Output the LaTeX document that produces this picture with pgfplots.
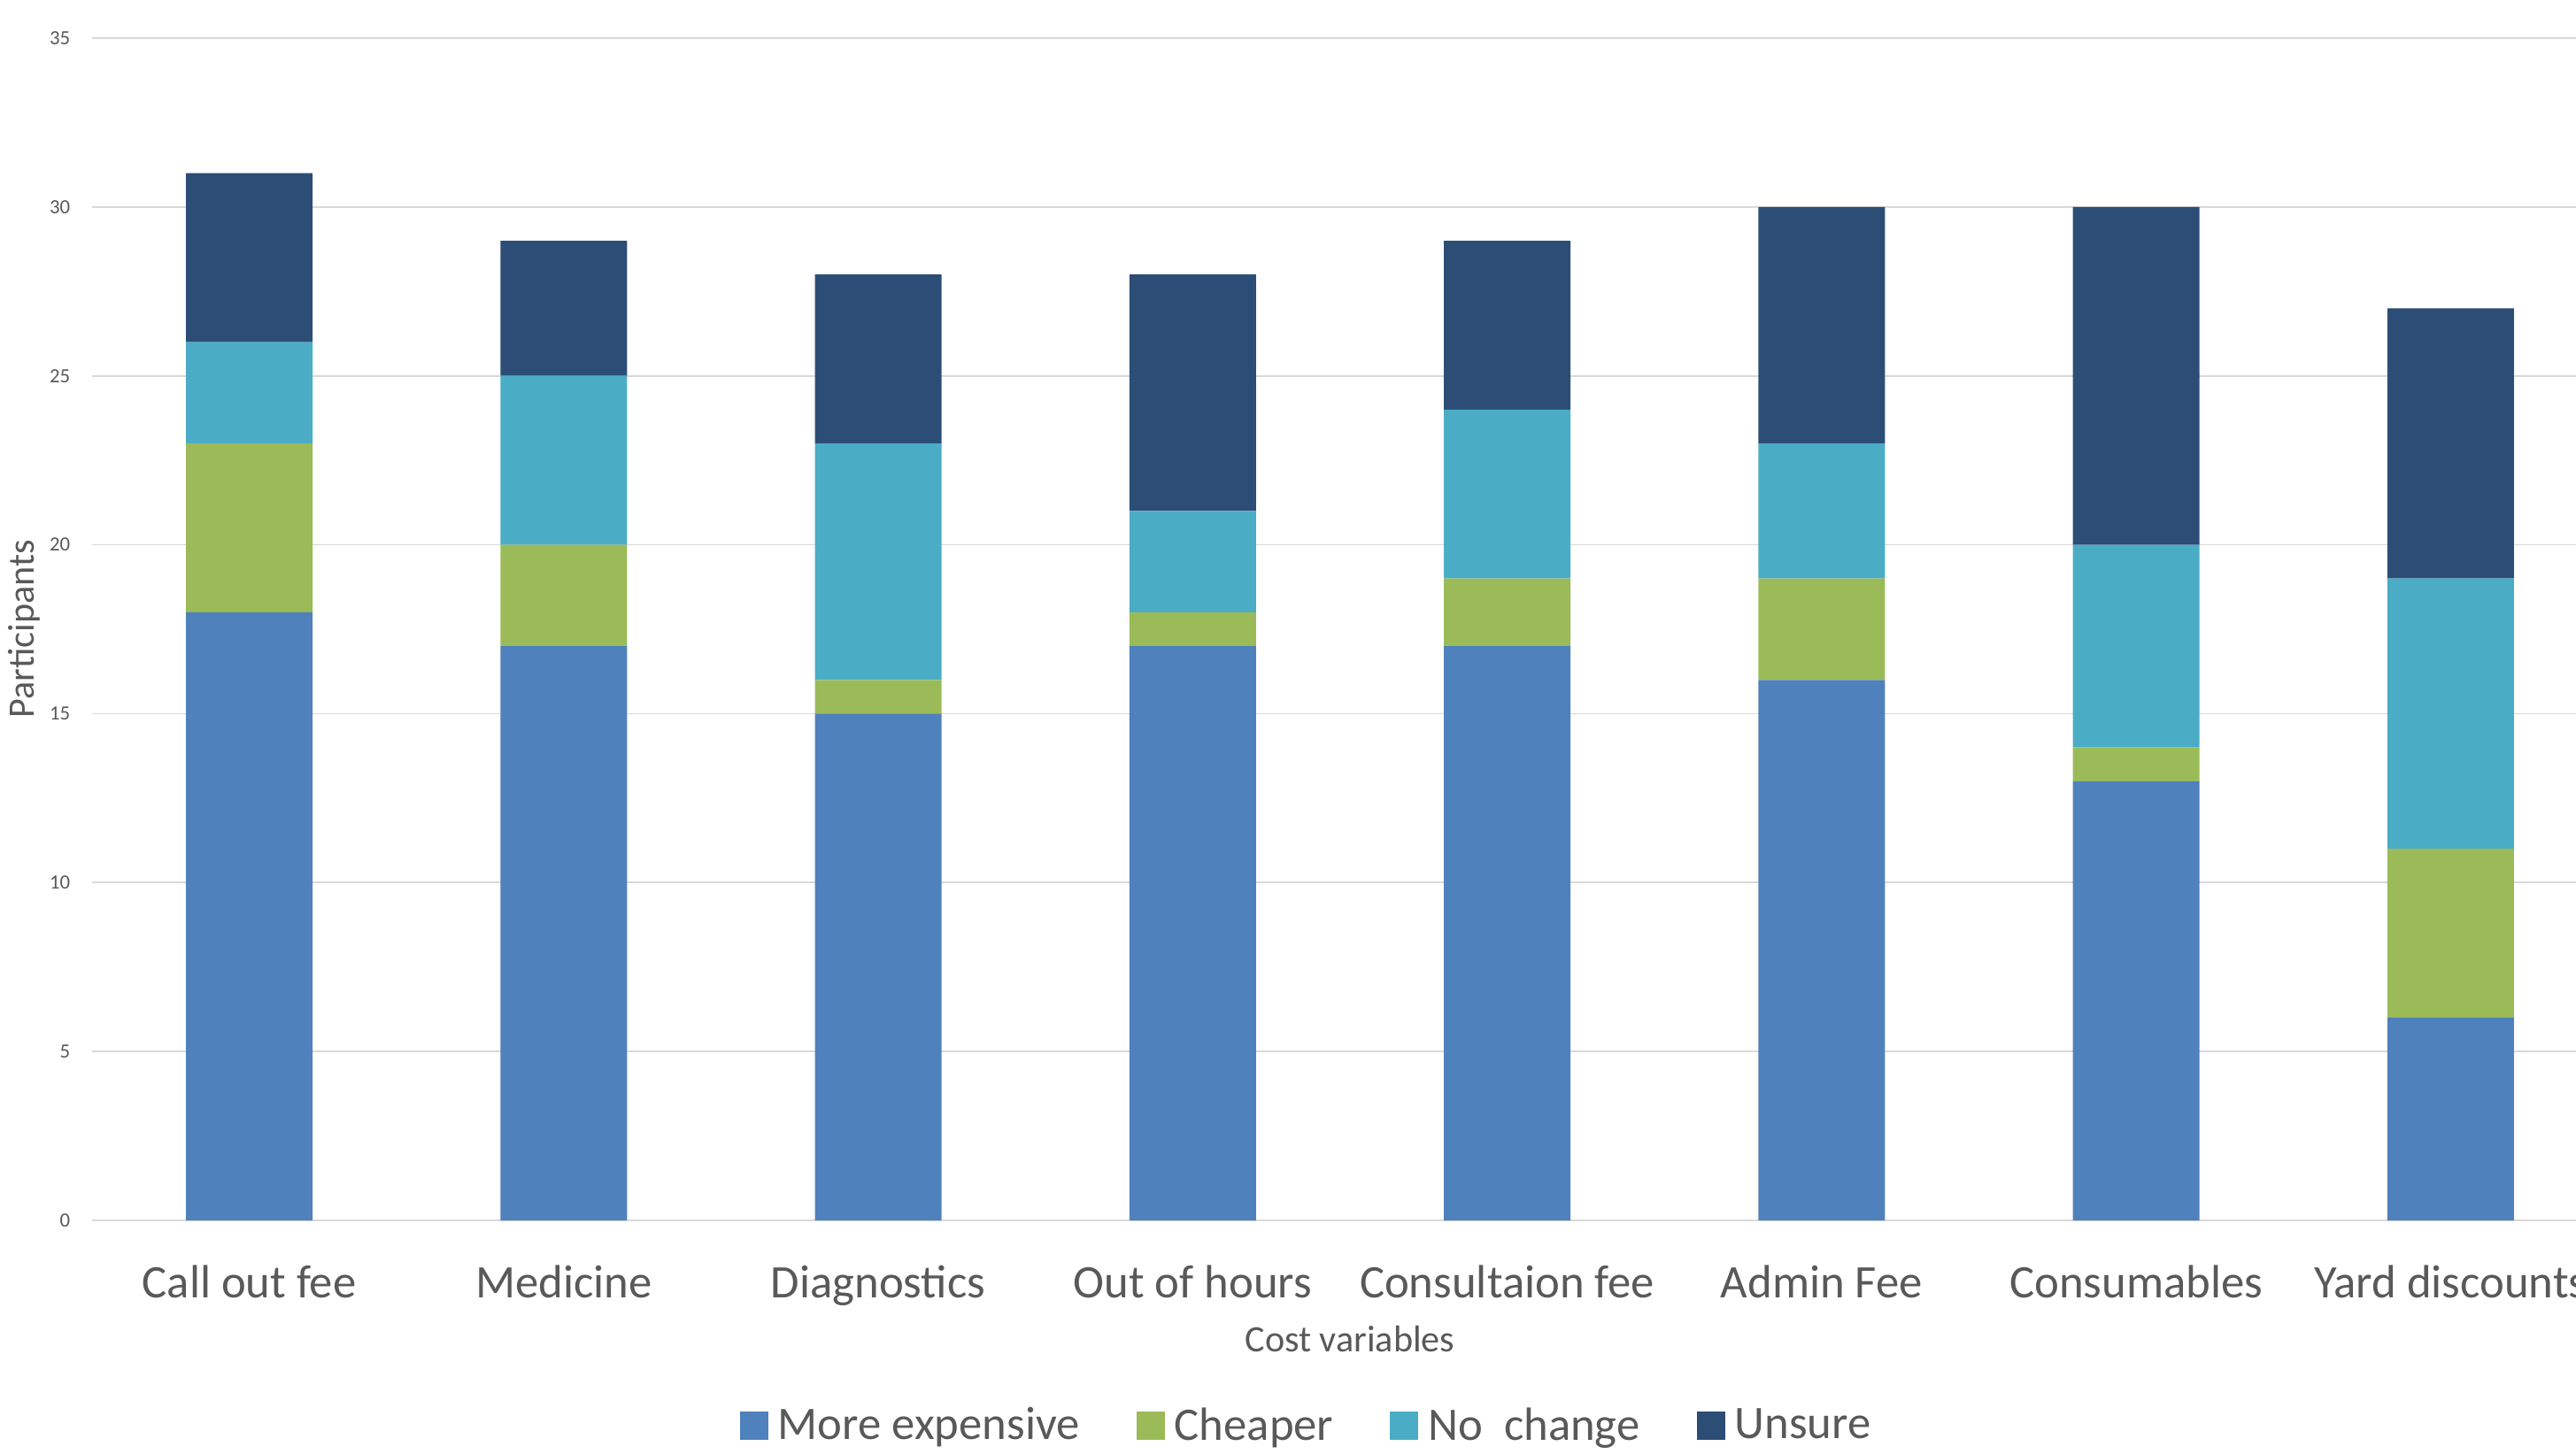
\documentclass[border=0pt]{standalone}
\usepackage{pgfplots}
\usepackage{pgfplotstable}
\usepackage{fontspec}
\setmainfont{Carlito}
\pgfplotsset{compat=1.18}
\definecolor{cME}{HTML}{4F81BD}
\definecolor{cCH}{HTML}{9BBB59}
\definecolor{cNC}{HTML}{4BACC6}
\definecolor{cUN}{HTML}{2C4D75}
\definecolor{txt}{HTML}{595959}
\definecolor{grd}{HTML}{D9D9D9}
\pgfplotstableread{
x me ch nc un
0 18 5 3 5
1 17 3 5 4
2 15 1 7 5
3 17 1 3 7
4 17 2 5 5
5 16 3 4 7
6 13 1 6 10
7 6 5 8 8
}\data
\begin{document}
\begin{tikzpicture}
\begin{axis}[
  at={(1.04cm,2.63cm)},
  scale only axis,
  width=28.42cm, height=13.36cm,
  xmin=-0.5, xmax=7.5, ymin=0, ymax=35,
  ybar stacked, bar width=1.43cm,
  axis line style={draw=none},
  tick style={draw=none},
  ymajorgrids,
  major grid style={draw=grd, line width=0.5pt},
  ytick={0,5,...,35},
  xtick=data,
  xticklabels={Call out fee,Medicine,Diagnostics,Out of hours,Consultaion fee,Admin Fee,Consumables,Yard discounts},
  /pgf/number format/assume math mode=true,
  yticklabel style={font=\fontsize{6.5}{7}\selectfont, text=txt, inner sep=0pt, anchor=east, xshift=-0.24cm},
  xticklabel style={font=\fontsize{15}{17}\selectfont, text=txt, anchor=base, yshift=-0.875cm},
  xlabel={Cost variables},
  ylabel={Participants},
  every axis x label/.style={at={(axis description cs:0.5,-0.1115)}, anchor=base, font=\fontsize{12}{14}\selectfont, text=txt},
  every axis y label/.style={at={(axis description cs:-0.0229,0.5)}, rotate=90, anchor=base, font=\fontsize{12}{14}\selectfont, text=txt},
  legend columns=4,
  legend style={at={(axis description cs:0.4835,-0.174)}, anchor=center, draw=none, fill=none,
    font=\fontsize{15}{17}\selectfont, text=txt,
    /tikz/every even column/.append style={column sep=0.57cm}},
  legend image code/.code={\fill[#1] (0cm,-0.16cm) rectangle (0.32cm,0.16cm);\path (0.36cm,0cm);},
]
\addplot[fill=cME, draw=none] table[x=x,y=me]{\data};
\addplot[fill=cCH, draw=none] table[x=x,y=ch]{\data};
\addplot[fill=cNC, draw=none] table[x=x,y=nc]{\data};
\addplot[fill=cUN, draw=none] table[x=x,y=un]{\data};
\legend{More expensive,Cheaper,No\ \ change,Unsure}
\end{axis}
\pgfresetboundingbox
\useasboundingbox (0,0) rectangle (29.1cm,16.42cm);
\end{tikzpicture}
\end{document}
